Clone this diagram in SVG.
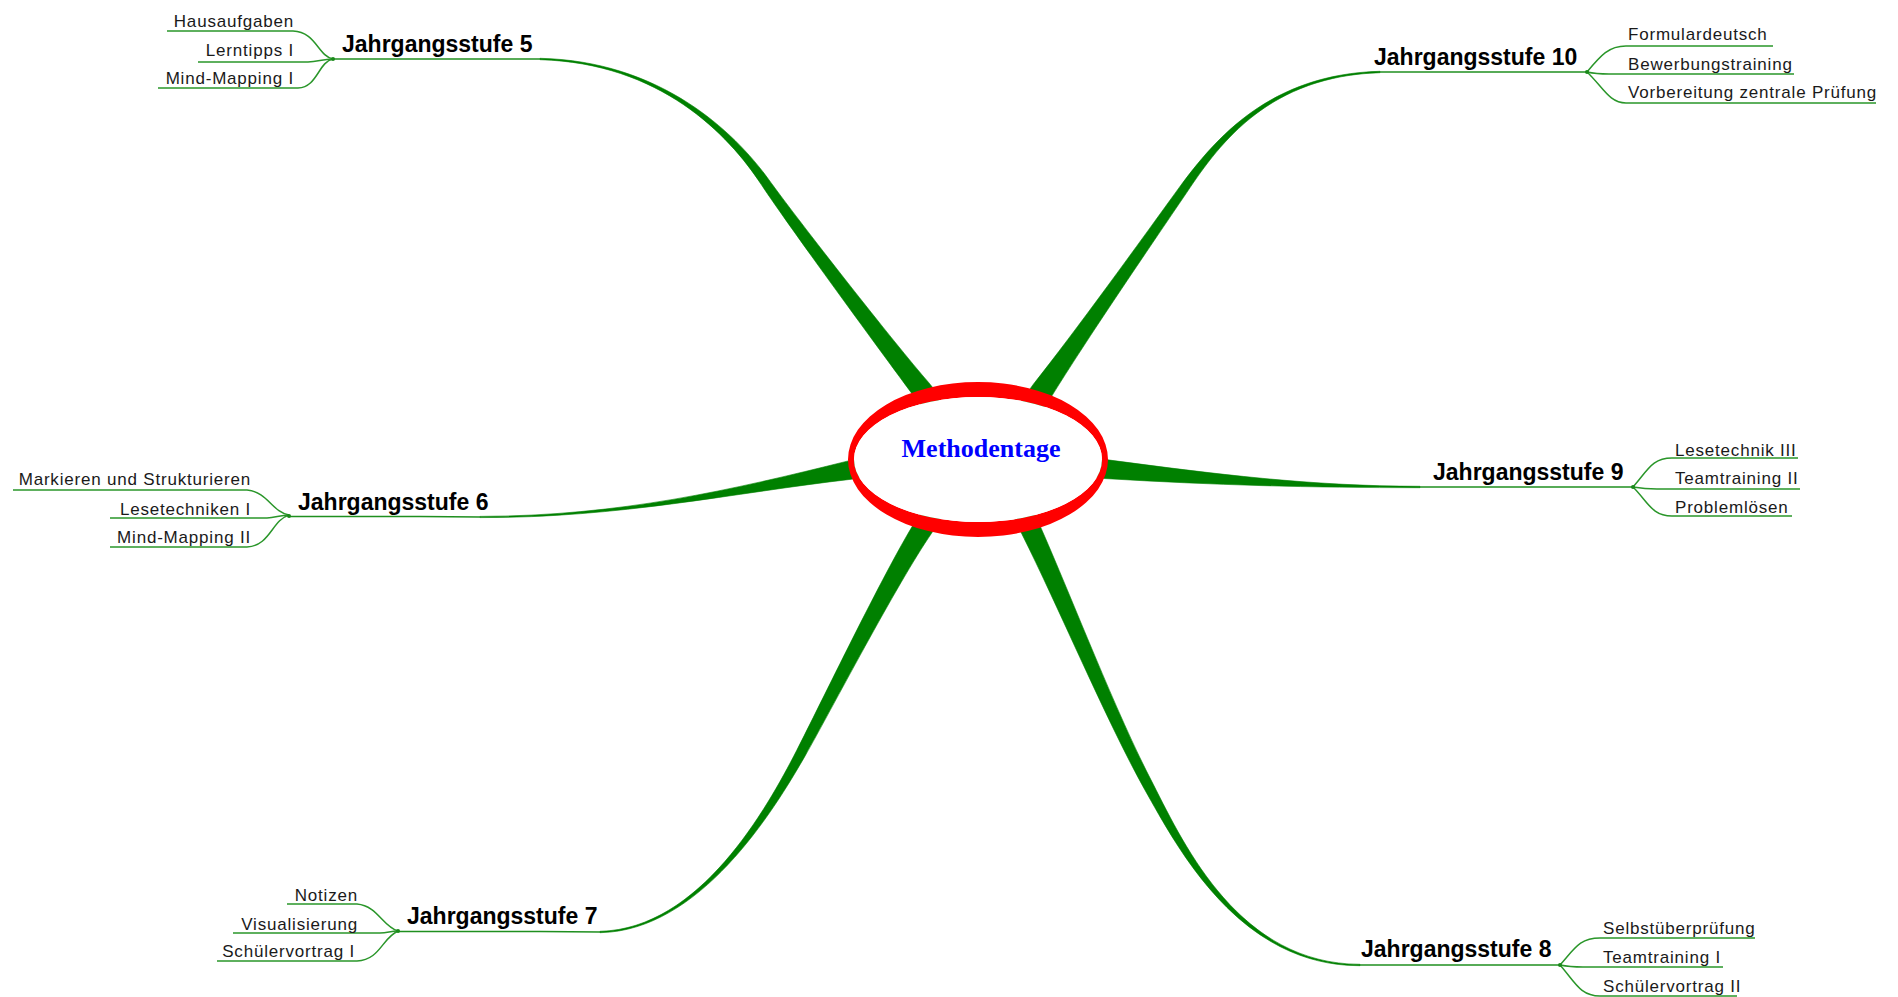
<svg xmlns="http://www.w3.org/2000/svg" width="1898" height="997" viewBox="0 0 1898 997">
<style>
.br{fill:#008000;stroke:#008000;stroke-width:0.6;stroke-linejoin:round}
.ul{fill:none;stroke:#1f8f1f;stroke-width:1.6}
.sl{fill:none;stroke:#2a962a;stroke-width:1.5}
.dot{fill:#1a8a1a}
.main{font-family:"Liberation Sans",Arial,sans-serif;font-weight:bold;font-size:23px;fill:#000}
.sub{font-family:"Liberation Sans",Arial,sans-serif;font-size:17px;letter-spacing:0.8px;fill:#1a1a1a}
.ctr{font-family:"Liberation Serif","Times New Roman",serif;font-weight:bold;font-size:26px;fill:#0000ff}
</style>
<rect width="1898" height="997" fill="#fff"/>
<g id="connectors">
  <path class="br" d="M941.3,398.3 L928.8,382.7 C895.7,345 797.9,220.1 768.7,179.5 C733.5,130.9 660,61 540,58.3 L540,59.7 C660,63 728.5,134.3 761.3,184.6 C788.9,226.3 883.3,355 913.2,395.3 L925.8,410.8 Z"/>
  <path class="br" d="M1039.5,413.7 L1051,397.3 C1086.2,340.1 1149,248.1 1186.7,192.6 C1220.5,141.7 1270,76 1380,72.7 L1380,71.3 C1270,74 1215.5,138.3 1179.3,187.4 C1140,241.7 1074.8,332.1 1033,384.7 L1021.5,401.1 Z"/>
  <path class="br" d="M868,457.3 L848.3,460.9 C731.7,489.9 620,516 480,516.4 L480,517.6 C620,518 732.3,492.9 851.7,479.2 L871.3,475.6 Z"/>
  <path class="br" d="M1086,457.6 L1105.9,459.6 C1215,474.1 1310,486.2 1420,486.3 L1420,487.7 C1310,487.8 1214,485.1 1104.1,478.5 L1084.2,476.5 Z"/>
  <path class="br" d="M925.6,505.8 L914.6,522.5 C883.1,573.6 819.5,706.1 796.6,750.6 C766.9,808.3 700,929 600,931.3 L600,932.7 C700,931 773.1,811.7 805.4,755.4 C830.1,711.9 897.3,582.9 931.4,533.5 L942.3,516.7 Z"/>
  <path class="br" d="M1013.4,516.2 L1022,534.3 C1057.8,605.4 1105.7,719.5 1144.6,789.4 C1178.9,850.3 1240,966 1360,965.7 L1360,964.3 C1240,964 1185.1,847 1153.4,784.6 C1116.3,713.8 1072.2,598.6 1040,525.7 L1031.5,507.6 Z"/>
  <path class="ul" d="M540,59 H333"/>
  <path class="ul" d="M1380,72 H1587"/>
  <path class="ul" d="M480,517 L420,516.5 H289"/>
  <path class="ul" d="M1420,487 H1633"/>
  <path class="ul" d="M600,932 L540,931.5 H398"/>
  <path class="ul" d="M1360,965 H1560"/>
  <path class="sl" d="M167,31 H293 C316,32 318,56 333,59"/>
  <path class="sl" d="M198,62 H308 C318,62 322,59 333,59"/>
  <path class="sl" d="M158,88 H298 C318,87 318,62 333,59"/>
  <path class="sl" d="M1587,72 C1601,55 1609,46 1626,46 H1773"/>
  <path class="sl" d="M1587,72 C1596,74 1601,74 1609,74 H1794"/>
  <path class="sl" d="M1587,72 C1603,87 1609,103 1626,103 H1876"/>
  <path class="sl" d="M13,490 H247 C268,492 272,512 289,515"/>
  <path class="sl" d="M110,518 H267 C275,518 280,515 289,515"/>
  <path class="sl" d="M110,547 H247 C270,546 272,520 289,515"/>
  <path class="sl" d="M1633,487 C1648,470 1652,458 1672,458 H1798"/>
  <path class="sl" d="M1633,487 C1645,489 1650,489 1657,489 H1800"/>
  <path class="sl" d="M1633,487 C1648,502 1652,516 1672,516 H1792"/>
  <path class="sl" d="M287,904 H357 C378,906 382,926 398,931"/>
  <path class="sl" d="M233,933 H380 C388,933 390,931 398,931"/>
  <path class="sl" d="M217,961 H357 C380,960 382,938 398,931"/>
  <path class="sl" d="M1560,965 C1575,948 1580,938 1600,938 H1755"/>
  <path class="sl" d="M1560,965 C1570,967 1575,967 1583,967 H1723"/>
  <path class="sl" d="M1560,965 C1575,982 1580,996 1600,996 H1737"/>
  <circle class="dot" cx="333" cy="59" r="2"/>
  <circle class="dot" cx="1587" cy="72" r="2"/>
  <circle class="dot" cx="289" cy="516" r="2"/>
  <circle class="dot" cx="1633" cy="487" r="2"/>
  <circle class="dot" cx="398" cy="931" r="2"/>
  <circle class="dot" cx="1560" cy="965" r="2"/>
</g>
<g id="center">
  <path fill="#ff0000" fill-rule="evenodd" d="M848,459.5 A130,77.5 0 1,0 1108,459.5 A130,77.5 0 1,0 848,459.5 Z M854,459.5 A124,62.5 0 1,1 1102,459.5 A124,62.5 0 1,1 854,459.5 Z"/>
  <ellipse cx="978" cy="459.5" rx="124" ry="62.5" fill="#fff"/>
  <text class="ctr" x="981" y="457" text-anchor="middle">Methodentage</text>
</g>
<g id="j5"><text class="main" x="342" y="52">Jahrgangsstufe 5</text></g>
<g id="j10"><text class="main" x="1374" y="65">Jahrgangsstufe 10</text></g>
<g id="j6"><text class="main" x="298" y="510">Jahrgangsstufe 6</text></g>
<g id="j9"><text class="main" x="1433" y="480">Jahrgangsstufe 9</text></g>
<g id="j7"><text class="main" x="407" y="924">Jahrgangsstufe 7</text></g>
<g id="j8"><text class="main" x="1361" y="957">Jahrgangsstufe 8</text></g>
<g id="j5-subs">
  <g id="s-hausaufgaben"><text class="sub" x="294" y="27" text-anchor="end">Hausaufgaben</text></g>
  <g id="s-lerntipps1"><text class="sub" x="294" y="56" text-anchor="end">Lerntipps I</text></g>
  <g id="s-mindmap1"><text class="sub" x="294" y="84" text-anchor="end">Mind-Mapping I</text></g>
</g>
<g id="j10-subs">
  <g id="s-formular"><text class="sub" x="1628" y="40">Formulardeutsch</text></g>
  <g id="s-bewerbung"><text class="sub" x="1628" y="70">Bewerbungstraining</text></g>
  <g id="s-vorbereitung"><text class="sub" x="1628" y="98">Vorbereitung zentrale Prüfung</text></g>
</g>
<g id="j6-subs">
  <g id="s-markieren"><text class="sub" x="251" y="485" text-anchor="end">Markieren und Strukturieren</text></g>
  <g id="s-lesetechniken1"><text class="sub" x="251" y="515" text-anchor="end">Lesetechniken I</text></g>
  <g id="s-mindmap2"><text class="sub" x="251" y="543" text-anchor="end">Mind-Mapping II</text></g>
</g>
<g id="j9-subs">
  <g id="s-lesetechnik3"><text class="sub" x="1675" y="456">Lesetechnik III</text></g>
  <g id="s-teamtraining2"><text class="sub" x="1675" y="484">Teamtraining II</text></g>
  <g id="s-problemloesen"><text class="sub" x="1675" y="513">Problemlösen</text></g>
</g>
<g id="j7-subs">
  <g id="s-notizen"><text class="sub" x="358" y="901" text-anchor="end">Notizen</text></g>
  <g id="s-visualisierung"><text class="sub" x="358" y="930" text-anchor="end">Visualisierung</text></g>
  <g id="s-schuelervortrag1"><text class="sub" x="355" y="957" text-anchor="end">Schülervortrag I</text></g>
</g>
<g id="j8-subs">
  <g id="s-selbst"><text class="sub" x="1603" y="934">Selbstüberprüfung</text></g>
  <g id="s-teamtraining1"><text class="sub" x="1603" y="963">Teamtraining I</text></g>
  <g id="s-schuelervortrag2"><text class="sub" x="1603" y="992">Schülervortrag II</text></g>
</g>
</svg>
